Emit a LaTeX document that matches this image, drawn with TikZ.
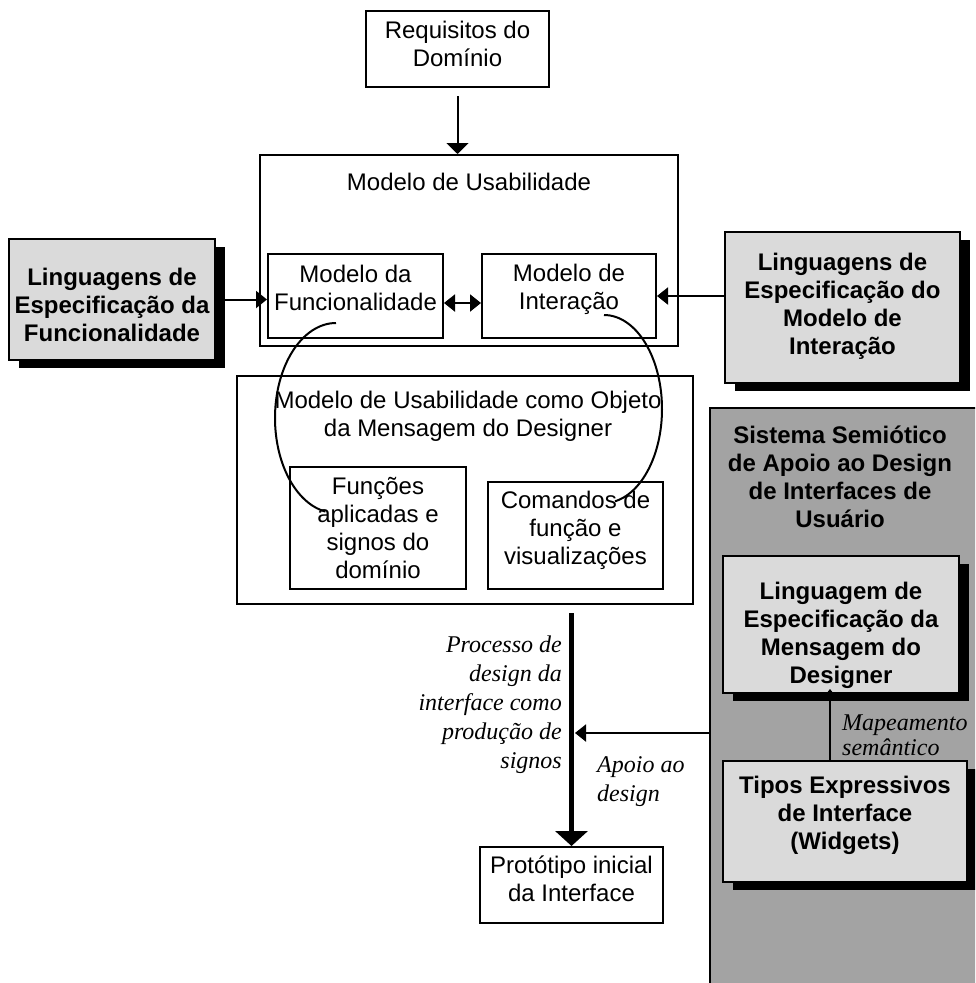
\documentclass[tikz,border=0pt]{standalone}
\usepackage{fontspec}
\setmainfont{Liberation Sans}
\newfontfamily\tms{Liberation Serif}
\usetikzlibrary{arrows.meta,shadows}
\definecolor{boxgray}{HTML}{DADADA}
\definecolor{panelgray}{HTML}{A3A3A3}
\begin{document}
\begin{tikzpicture}[x=1pt,y=-1pt,
  every node/.style={font=\fontsize{24}{28}\selectfont, align=center, inner sep=0pt},
  box/.style={draw, line width=2pt},
  shadebox/.style={box, fill=boxgray,
    drop shadow={shadow xshift=10pt, shadow yshift=-8pt, fill=black, opacity=1}},
  boldtext/.style={font=\fontsize{24}{28}\selectfont\bfseries},
  tip/.style={Triangle[width=17pt 0 0,length=11pt 0 0]},
  arr/.style={line width=2pt, -{Triangle[width=17pt 0 0,length=11pt 0 0]}},
  note/.style={font=\tms\itshape\fontsize{24}{29}\selectfont}
]
\clip (0,0) rectangle (975,983);
\fill[white] (0,0) rectangle (975,983);

% semiotic system panel on the right
\node[draw, fill=panelgray, line width=2pt, anchor=north west,
      minimum width=300, minimum height=600] (panel) at (709,407) {};
\node[boldtext] (panelt) at (840,477) {Sistema Semiótico\\de Apoio ao Design\\de Interfaces de\\Usuário};
\node[shadebox, minimum width=236, minimum height=137] (ling) at (841,624.5) {};
\node[boldtext] (lingt) at (841,635) {Linguagem de\\Especificação da\\Mensagem do\\Designer};
\node[shadebox, minimum width=244, minimum height=121] (tipos) at (845,821.5) {};
\node[boldtext] (tipost) at (845,815) {Tipos Expressivos\\de Interface\\(Widgets)};

% domain requirements
\node[box, minimum width=183, minimum height=76] (req) at (457.5,49) {};
\node (reqt) at (457.5,44) {Requisitos do\\Domínio};

% usability model
\node[box, minimum width=418, minimum height=191] (usab) at (469,250.5) {};
\node (usabt) at (469,182) {Modelo de Usabilidade};
\node[box, minimum width=175, minimum height=84] (func) at (355.5,296) {};
\node (funct) at (355.5,288) {Modelo da\\Funcionalidade};
\node[box, minimum width=174, minimum height=84] (inter) at (569,296) {};
\node (intert) at (569,289) {Modelo de\\Interação};

% specification languages
\node[shadebox, minimum width=206, minimum height=121] (lspec) at (112,299.5) {};
\node[boldtext] (lspect) at (112,305) {Linguagens de\\Especificação da\\Funcionalidade};
\node[shadebox, minimum width=235, minimum height=151] (rspec) at (842.5,307.5) {};
\node[boldtext] (rspect) at (842.5,306) {Linguagens de\\Especificação do\\Modelo de\\Interação};

% usability model as object of the designer's message
\node[box, minimum width=456, minimum height=228] (obj) at (465,490) {};
\node (objt) at (468,416) {Modelo de Usabilidade como Objeto\\da Mensagem do Designer};
\node[box, minimum width=176, minimum height=122] (funcs) at (378,528) {};
\node (funcst) at (378,528) {Funções\\aplicadas e\\signos do\\domínio};
\node[box, minimum width=175, minimum height=107] (cmds) at (575.5,535.5) {};
\node (cmdst) at (575.5,530) {Comandos de\\função e\\visualizações};

% initial prototype
\node[box, minimum width=183, minimum height=76] (proto) at (571.5,885) {};
\node (protot) at (571.5,879) {Protótipo inicial\\da Interface};

% connectors
\draw[line width=2pt, -{Triangle[width=22pt 0 0,length=11pt 0 0]}, shorten <=8pt]
  (req.south) -- (req.south |- usab.north);
\draw[arr] (lspec.east) -- (lspec.east -| func.west);
\draw[arr] (rspec.west |- inter.east) -- (inter.east);
\draw[line width=2pt, {Triangle[width=17pt 0 0,length=11pt 0 0]}-{Triangle[width=17pt 0 0,length=11pt 0 0]}]
  ([yshift=-7pt]func.east) -- ([yshift=-7pt]inter.west);
\draw[line width=5pt, -{Triangle[width=32pt 0 0,length=15pt 0 0]}, shorten <=8pt]
  (proto.north |- obj.south) -- (proto.north);
\coordinate (join) at (575,733);
\draw[arr] (panel.west |- join) -- (join);
\draw[arr, shorten >=-5pt] ([xshift=-15pt]tipos.north) -- ([xshift=-15pt]tipos.north |- ling.south);

% labels
\node[note, anchor=east, align=right] (proc) at (562,705) {Processo de\\design da\\interface como\\produção de\\signos};
\node[note, anchor=west, align=left] (apoio) at (597,782) {Apoio ao\\design};
\node[note, anchor=west, align=left, font=\tms\itshape\fontsize{24}{25}\selectfont] (mapa) at (842,735) {Mapeamento\\semântico};

% the two open arcs linking the models
\draw[line width=2pt] plot[domain=270:100, samples=60, smooth] ({336+61*cos(\x)},{418+95*sin(\x)});
\draw[line width=2pt] plot[domain=-90:79, samples=60, smooth] ({604+58*cos(\x)},{409+94*sin(\x)});
\end{tikzpicture}
\end{document}
